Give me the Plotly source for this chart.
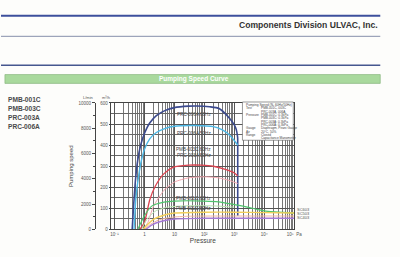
import plotly.graph_objects as go
import numpy as np

W, H = 400, 257

# ---------------- data (pressure in Pa, speed in m3/h) ----------------
p_006a_60 = [0.39, 0.43, 0.5, 0.6, 0.75, 1.0, 1.5, 2.5, 5, 10, 30, 55, 150, 310, 645, 1100, 1290, 1300, 1300]
s_006a_60 = [0, 100, 230, 330, 400, 455, 505, 540, 565, 578, 585, 586, 582, 574, 532, 484, 437, 400, 65]

p_006a_50 = [0.45, 0.52, 0.65, 0.8, 1.0, 1.5, 2.5, 5, 10, 50, 200, 400, 700, 1100, 1300]
s_006a_50 = [0, 150, 260, 330, 380, 430, 460, 480, 490, 493, 488, 472, 447, 414, 400]

p_003_60 = [0.7, 1.0, 1.5, 2.3, 4.5, 9, 30, 80, 200, 500, 1000, 1300]
s_003_60 = [0, 33, 140, 205, 265, 295, 305, 305, 300, 285, 268, 255]

p_003_50 = [0.9, 1.3, 2, 4.5, 10, 30, 100, 300, 700, 1300]
s_003_50 = [0, 33, 110, 186, 225, 245, 250, 245, 232, 218]

p_001_60 = [0.6, 1.0, 1.8, 4.5, 10, 100, 300, 1000, 3000, 10000, 100000]
s_001_60 = [0, 65, 112, 130, 135, 135, 131, 118, 105, 88, 78]

p_001_60b = [0.8, 1.3, 2.5, 6, 20, 200, 1000]
s_001_60b = [0, 55, 90, 106, 112, 112, 106]

p_001_50 = [0.9, 1.3, 2, 5, 10, 100, 1000, 10000, 100000]
s_001_50 = [0, 25, 48, 70, 78, 82, 82, 80, 78]

p_sc_b = [1.0, 1.6, 3, 8, 30, 1000, 100000]
s_sc_b = [0, 25, 45, 58, 63, 64, 64]

p_sc_c = [1.1, 1.8, 3.5, 10, 100, 100000]
s_sc_c = [0, 22, 38, 50, 53, 53]

curve_labels = ["PRC-006A 60Hz", "PRC-006A 50Hz", "PMB-003C 60Hz", "PRC-003A 50Hz", "PMB-001C 60Hz", "PMB-001C 50Hz"]
curve_label_y = [545, 455, 381, 349, 149, 98]
right_labels = ["SC603", "SC503", "SC403"]
right_label_y = [93, 74, 56]
model_list = ["PMB-001C", "PMB-003C", "PRC-003A", "PRC-006A"]
x_tickvals = [0.1, 1, 10, 100, 1000, 10000, 100000]
x_ticktext = ["10⁻¹", "1", "10", "10²", "10³", "10⁴", "10⁵  Pa"]
y_ticks = [0, 100, 200, 300, 400, 500, 600]
y2_ticks = [0, 2000, 4000, 6000, 8000, 10000]
y2_text = ["0", "2000", "4000", "6000", "8000", "10000"]

series = [
    (p_006a_60, s_006a_60, "#3b4a8e", 1.6),
    (p_006a_50, s_006a_50, "#4db8e6", 1.4),
    (p_003_60, s_003_60, "#dc4450", 1.3),
    (p_003_50, s_003_50, "#f3a5ae", 1.0),
    (p_001_60b, s_001_60b, "#b8e4b0", 1.0),
    (p_001_60, s_001_60, "#4fc46c", 1.2),
    (p_sc_b, s_sc_b, "#f4b8a0", 1.0),
    (p_001_50, s_001_50, "#f3cf5a", 1.4),
    (p_sc_c, s_sc_c, "#a57ad6", 1.4),
]

def px(x):
    return x / W

def py(y):
    return 1 - y / H

fig = go.Figure()
for p, s, c, w in series:
    fig.add_trace(go.Scatter(x=p, y=s, mode="lines", line=dict(color=c, width=w, shape="spline", smoothing=0.6),
                             xaxis="x", yaxis="y", showlegend=False, hoverinfo="skip"))

# invisible trace to carry the L/min axis
fig.add_trace(go.Scatter(x=[1], y=[0], mode="markers", marker=dict(opacity=0),
                         xaxis="x", yaxis="y2", showlegend=False, hoverinfo="skip"))

minor_x = []
for d in range(-1, 5):
    for m in range(2, 10):
        minor_x.append(m * 10 ** d)

font = "Liberation Sans, Arial, sans-serif"
tickfont = dict(family=font, size=4.5, color="#555")

fig.update_layout(
    width=W, height=H, margin=dict(l=0, r=0, t=0, b=0),
    paper_bgcolor="#fdfdfb", plot_bgcolor="white",
    xaxis=dict(type="log", domain=[px(113), px(300)], range=[-1.1, 5],
               tickmode="array", tickvals=x_tickvals, ticktext=x_ticktext,
               tickfont=tickfont, showgrid=True, gridcolor="#555", gridwidth=0.7,
               showline=True, linecolor="#444", linewidth=0.8, mirror=True,
               ticks="", ticklen=2,
               minor=dict(tickmode="array", tickvals=minor_x, showgrid=True,
                          gridcolor="#777", gridwidth=0.5),
               title=dict(text="Pressure", font=dict(family=font, size=6.5, color="#444"), standoff=2),
               zeroline=False, anchor="y"),
    yaxis=dict(domain=[py(232), py(103)], range=[0, 600], tickmode="array", tickvals=y_ticks,
               tickfont=tickfont, showgrid=True, gridcolor="#555", gridwidth=0.7,
               minor=dict(dtick=50, showgrid=True, gridcolor="#666", gridwidth=0.5),
               showline=True, linecolor="#444", linewidth=0.8, mirror=True,
               ticks="outside", ticklen=2, tickcolor="#444", zeroline=False, anchor="x"),
    yaxis2=dict(overlaying="y", anchor="free", position=px(96), side="left", range=[0, 10000],
                tickmode="array", tickvals=y2_ticks, ticktext=y2_text, tickfont=tickfont,
                showgrid=False, showline=True, linecolor="#444", linewidth=0.8,
                ticks="outside", ticklen=3, tickcolor="#444", zeroline=False,
                minor=dict(dtick=1000, ticks="outside", ticklen=1.5, tickcolor="#444"),
                title=dict(text="Pumping speed", font=dict(family=font, size=6, color="#444"), standoff=3)),
)

shapes = []
# header lines
shapes.append(dict(type="line", xref="paper", yref="paper", x0=0, x1=px(388), y0=py(14), y1=py(14),
                   line=dict(color="#3d4f9c", width=2.2)))
shapes.append(dict(type="line", xref="paper", yref="paper", x0=0, x1=px(388), y0=py(35), y1=py(35),
                   line=dict(color="#6a7396", width=0.8)))
shapes.append(dict(type="line", xref="paper", yref="paper", x0=0, x1=px(388), y0=py(64.5), y1=py(64.5),
                   line=dict(color="#46578f", width=1.4)))
# green title bar
shapes.append(dict(type="rect", xref="paper", yref="paper", x0=px(4), x1=px(388), y0=py(83), y1=py(74),
                   fillcolor="#a9d99d", line=dict(color="#7fae76", width=0.6)))
# legend box
shapes.append(dict(type="rect", xref="paper", yref="paper", x0=px(247), x1=px(299), y0=py(141), y1=py(102),
                   fillcolor="white", line=dict(color="#555", width=0.6)))
fig.update_layout(shapes=shapes)

ann = []
ann.append(dict(text="<b>Components Division ULVAC, Inc.</b>", xref="paper", yref="paper",
                x=px(388), y=py(23.5), xanchor="right", yanchor="middle", showarrow=False,
                font=dict(family=font, size=8.6, color="#333")))
ann.append(dict(text="<b>Pumping Speed Curve</b>", xref="paper", yref="paper",
                x=px(197), y=py(78.5), xanchor="center", yanchor="middle", showarrow=False,
                font=dict(family=font, size=6.5, color="white")))
for i, m in enumerate(model_list):
    ann.append(dict(text="<b>" + m + "</b>", xref="paper", yref="paper", x=px(5), y=py(99.5 + 9.3 * i),
                    xanchor="left", yanchor="middle", showarrow=False,
                    font=dict(family=font, size=6.6, color="#4a4a4a")))
ann.append(dict(text="L/min", xref="paper", yref="paper", x=px(89), y=py(97.5), xanchor="center",
                yanchor="middle", showarrow=False, font=dict(family=font, size=4, color="#555")))
ann.append(dict(text="m³/h", xref="paper", yref="paper", x=px(107), y=py(97.5), xanchor="center",
                yanchor="middle", showarrow=False, font=dict(family=font, size=4, color="#555")))
for t, yv in zip(curve_labels, curve_label_y):
    ann.append(dict(text=t, xref="x", yref="y", x=np.log10(45), y=yv, xanchor="center", yanchor="middle",
                    showarrow=False, font=dict(family=font, size=4.6, color="#444")))
for t, yv in zip(right_labels, right_label_y):
    ann.append(dict(text=t, xref="paper", yref="y", x=px(301), y=yv, xanchor="left", yanchor="middle",
                    showarrow=False, font=dict(family=font, size=4, color="#555")))

legend_rows = [
    ("Pumping Speed (N₂ 60Hz/50Hz)", ""),
    ("Test", "PMB-001C, 003C"),
    ("", "PRC-003A, 006A"),
    ("Pressure", "PMB-001C: 0.3kPa"),
    ("", "PMB-003C: 0.3kPa"),
    ("", "PRC-003A: 0.3kPa"),
    ("", "PRC-006A: 0.3kPa"),
    ("Gauge", "Diaphragm, Pirani Gauge"),
    ("Air", "20°C, 50%"),
    ("Range", "Closed"),
    ("", "Capacitance Manometer"),
]
for i, (a, b) in enumerate(legend_rows):
    yy = py(105 + 3.4 * i)
    if a:
        ann.append(dict(text=a, xref="paper", yref="paper", x=px(249), y=yy, xanchor="left", yanchor="middle",
                        showarrow=False, font=dict(family=font, size=3.2, color="#444")))
    if b:
        ann.append(dict(text=b, xref="paper", yref="paper", x=px(264), y=yy, xanchor="left", yanchor="middle",
                        showarrow=False, font=dict(family=font, size=3.2, color="#444")))
fig.update_layout(annotations=ann)

fig.write_html("out.html")
